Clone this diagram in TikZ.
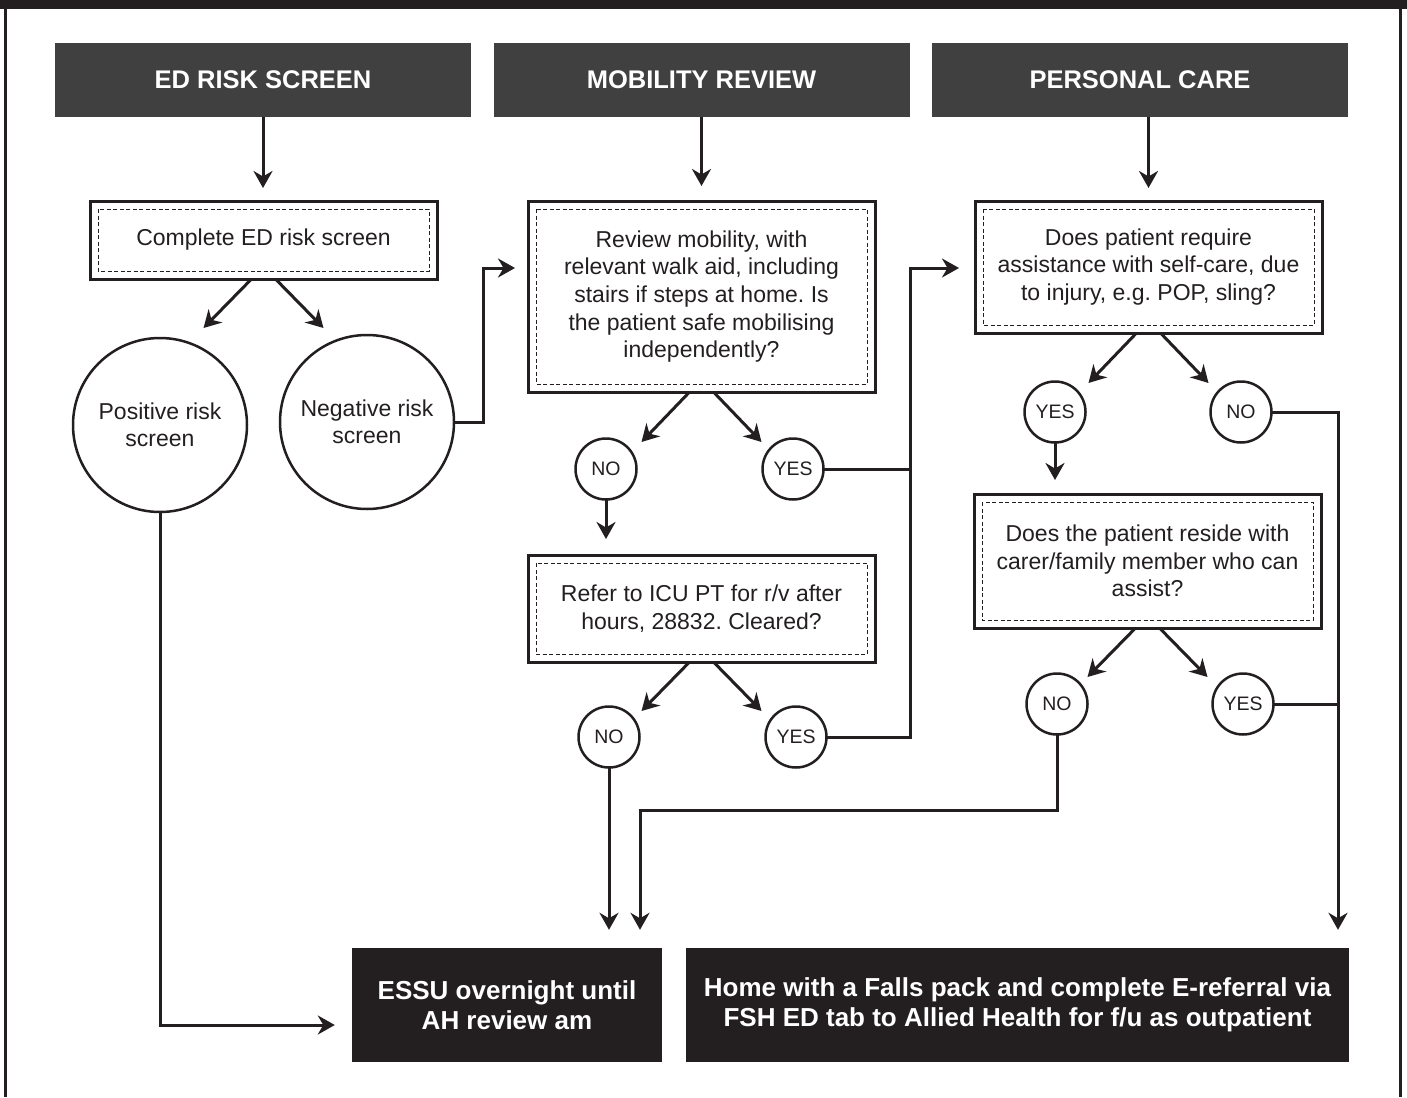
\documentclass[tikz,border=0pt]{standalone}
\usepackage{fontspec}
\setmainfont{Liberation Sans}
\frenchspacing
\usetikzlibrary{arrows.meta}
\definecolor{inkDark}{HTML}{231F20}
\definecolor{headFill}{HTML}{404040}
\tikzset{
  header/.style={fill=headFill,text=white,font=\bfseries\fontsize{25.5}{30}\selectfont,
    minimum width=416pt,minimum height=74pt,inner sep=0pt},
  outcome/.style={fill=inkDark,text=white,align=center,font=\bfseries\fontsize{26}{29.5}\selectfont,
    minimum height=114pt,inner sep=0pt},
  query/.style={draw=inkDark,line width=3pt,fill=white,align=center,text=inkDark,
    font=\fontsize{23}{27.7}\selectfont,minimum width=347pt,inner sep=0pt,outer sep=0pt},
  inset/.style={draw=inkDark,line width=0.9pt,dash pattern=on 4pt off 2.5pt},
  bigring/.style={circle,draw=inkDark,line width=2.5pt,minimum size=174pt,inner sep=0pt,
    align=center,text=inkDark,font=\fontsize{23}{27.5}\selectfont,outer sep=0pt},
  ring/.style={circle,draw=inkDark,line width=2.5pt,minimum size=61pt,inner sep=0pt,
    text=inkDark,font=\fontsize{19.5}{22}\selectfont,outer sep=0pt},
  link/.style={draw=inkDark,line width=3pt},
  flow/.style={link,-{Stealth[length=17pt,width=19pt,inset=5.5pt]}},
}
\NewDocumentCommand\QBox{mmmm}%
{%
\node[query,minimum height=#3] (#1) at (#2) {#4};%
\draw[inset] ([shift={(8pt,-8pt)}]#1.north west) rectangle ([shift={(-8pt,8pt)}]#1.south east);%
}
\NewDocumentCommand\Split{mm}%
{%
\draw[flow] ([xshift=-12pt]#1.south) -- ++(-48,#2);%
\draw[flow] ([xshift=12pt]#1.south) -- ++(48,#2);%
}

\begin{document}
\begin{tikzpicture}[x=1pt,y=-1pt]
\useasboundingbox (0,0) rectangle (1407,1097);
\fill[inkDark] (0,0) rectangle (1407,9);
\draw[inkDark,line width=3pt] (5.5,0) -- (5.5,1097) (1400.5,0) -- (1400.5,1097);

\node[header] (edHead) at (263,80) {ED RISK SCREEN};
\node[header] (mobHead) at (701.5,80) {MOBILITY REVIEW};
\node[header] (careHead) at (1140,80) {PERSONAL CARE};

\QBox{screen}{263.5,240}{78pt}{Complete ED risk screen}
\QBox{mobility}{701.5,296.5}{191pt}{Review mobility, with\\relevant walk aid, including\\stairs if steps at home. Is\\the patient safe mobilising\\independently?}
\QBox{selfcare}{1148.5,267}{132pt}{Does patient require\\assistance with self-care, due\\to injury, e.g. POP, sling?}
\QBox{icupt}{701.5,608.5}{107pt}{Refer to ICU PT for r/v after\\hours, 28832. Cleared?}
\QBox{carer}{1147.5,561}{134pt}{Does the patient reside with\\carer/family member who can\\assist?}

\node[bigring] (positive) at (160,425) {Positive risk\\screen};
\node[bigring] (negative) at (367,422) {Negative risk\\screen};

\node[ring] (mobNo) at (606,469) {NO};
\node[ring] (mobYes) at (793,469) {YES};
\node[ring] (icuNo) at (609,737) {NO};
\node[ring] (icuYes) at (796,737) {YES};
\node[ring] (careYes) at (1055,412) {YES};
\node[ring] (careNo) at (1241,412) {NO};
\node[ring] (carerNo) at (1057,704) {NO};
\node[ring] (carerYes) at (1243,704) {YES};

\node[outcome,minimum width=310pt] (essu) at (507,1005) {ESSU overnight until\\AH review am};
\node[outcome,minimum width=663pt] (home) at (1017.5,1005) {Home with a Falls pack and complete E-referral via\\FSH ED tab to Allied Health for f/u as outpatient};

\coordinate (mobBus) at (910,268);
\coordinate (homeBus) at (1338,412);
\coordinate (merge) at (640,810);

\draw[flow,shorten >=13pt] (edHead.south) -- (edHead.south |- screen.north);
\draw[flow,shorten >=15pt] (mobHead.south) -- (mobHead.south |- mobility.north);
\draw[flow,shorten >=13pt] (selfcare.north |- careHead.south) -- (selfcare.north);

\Split{screen}{49}
\Split{mobility}{50}
\Split{selfcare}{50}
\Split{icupt}{49}
\Split{carer}{49}

\draw[flow,shorten >=13pt] (negative.east) -- ++(29,0) |- ([yshift=28.5pt]mobility.west);
\draw[flow,shorten >=17pt] (positive.south) |- ([yshift=-20pt]essu.west);

\draw[flow,shorten >=16pt] (mobNo.south) -- (mobNo.south |- icupt.north);
\draw[link] (mobYes.east) -- (mobYes.east -| mobBus);
\draw[flow,shorten >=16pt] (icuYes.east) -| (mobBus) -- (selfcare.west |- mobBus);

\draw[flow,shorten >=18pt] (icuNo.south) -- (icuNo.south |- essu.north);
\draw[flow,shorten >=18pt] (carerNo.south) |- (merge) -- (merge |- essu.north);

\draw[flow,shorten >=14pt] (careYes.south) -- (careYes.south |- carer.north);
\draw[link] (carerYes.east) -- (carerYes.east -| homeBus);
\draw[flow,shorten >=18pt] (careNo.east) -- (homeBus) -- (homeBus |- home.north);
\end{tikzpicture}
\end{document}
